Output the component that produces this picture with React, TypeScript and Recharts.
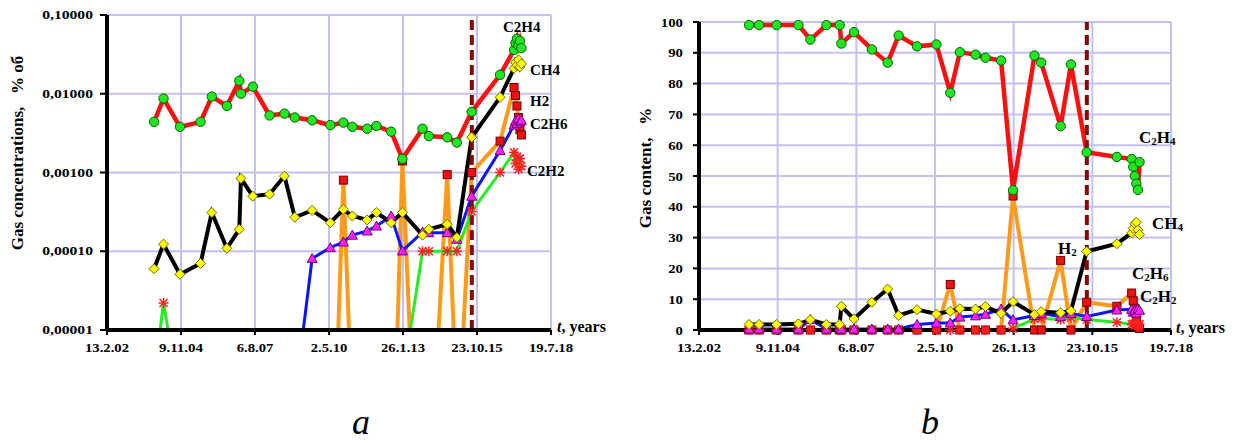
import React from "react";
import { LineChart, Line, XAxis, YAxis, CartesianGrid, ReferenceLine } from "recharts";

// sampling dates, days since 13.2.02
const days = [636, 764, 986, 1264, 1416, 1620, 1788, 1810, 1970, 2197, 2398, 2538, 2772, 3018, 3194, 3316, 3515, 3642, 3840, 3992, 4264, 4350, 4597, 4728, 4928, 5312];
// last group of closely spaced samples
const clusterDays = [5500, 5520, 5540, 5560, 5580, 5600];
const eventDay = 4930;

const dateTicks = [0, 1000, 2000, 3000, 4000, 5000, 6000];
const dateLabels = ["13.2.02", "9.11.04", "6.8.07", "2.5.10", "26.1.13", "23.10.15", "19.7.18"];
const logTicks = [0.00001, 0.0001, 0.001, 0.01, 0.1];
const pctTicks = [0, 10, 20, 30, 40, 50, 60, 70, 80, 90, 100];

// (a) gas concentrations, % vol (log axis)
const FLOOR = 0.00001; // zero readings drop to the axis floor
const aC2H4 = [0.0044, 0.0087, 0.0038, 0.0044, 0.0092, 0.007, 0.0146, 0.01, 0.0123, 0.0053, 0.0056, 0.005, 0.0046, 0.004, 0.0043, 0.0038, 0.0036, 0.0039, 0.0033, 0.00149, 0.0036, 0.0029, 0.0028, 0.0024, 0.0059, 0.0174, 0.036, 0.044, 0.05, 0.041, 0.047, 0.038];
const aCH4 = [0.00006, 0.000123, 0.000051, 0.00007, 0.00031, 0.000109, 0.00019, 0.00084, 0.0005, 0.00053, 0.0009, 0.00027, 0.00033, 0.00023, 0.00034, 0.00028, 0.00025, 0.00031, 0.00023, 0.00031, 0.00016, 0.00019, 0.00022, 0.00015, 0.0028, 0.009, 0.021, 0.025, 0.023, 0.027, 0.022, 0.024];
const aH2: [number, number | null][] = [
  [3125, FLOOR], [3194, 0.0008], [3270, FLOOR], [3600, null],
  [3925, FLOOR], [3992, 0.0014], [4090, FLOOR], [4300, null],
  [4480, FLOOR], [4597, 0.00094], [4685, FLOOR], [4750, null],
  [4815, FLOOR], [4928, 0.001], [5312, 0.0025],
  [5500, 0.012], [5520, 0.0095], [5540, 0.007], [5560, 0.005], [5580, 0.0035], [5600, 0.003],
];
const aC2H6: [number, number | null][] = [
  [2652, FLOOR], [2772, 0.000081], [3018, 0.000111], [3194, 0.000131], [3316, 0.00016], [3515, 0.000181],
  [3642, 0.000209], [3840, 0.00028], [3992, 0.000101], [4264, 0.000175], [4350, 0.000172], [4597, 0.000172],
  [4728, 0.000142], [4928, 0.0005], [5312, 0.0019],
  [5500, 0.004], [5520, 0.0045], [5540, 0.0042], [5560, 0.0048], [5580, 0.0044], [5600, 0.0046],
];
const aC2H2: [number, number | null][] = [
  [717, FLOOR], [764, 0.000022], [825, FLOOR], [2000, null],
  [4100, FLOOR], [4264, 0.0001], [4350, 0.0001], [4597, 0.0001], [4728, 0.0001], [4928, 0.00032], [5312, 0.001],
  [5500, 0.0018], [5520, 0.0013], [5540, 0.0016], [5560, 0.0011], [5580, 0.0015], [5600, 0.0012],
];

// (b) gas content, %
const bC2H4 = [99, 99, 99, 99, 94.3, 99, 99, 93, 96.7, 91.1, 86.8, 95.6, 92.1, 92.7, 77, 90.2, 89.4, 88.4, 87.5, 45.4, 89.1, 86.8, 66.2, 86.2, 57.7, 56.2, 55.5, 53, 50, 47.5, 45.5, 54.5];
const bCH4 = [1.8, 1.8, 1.8, 2.0, 3.3, 1.8, 1.8, 7.7, 3.6, 9.0, 13.3, 4.7, 6.6, 5.2, 6.1, 6.9, 6.8, 7.6, 5.4, 9.2, 5.0, 6.0, 5.6, 6.2, 25.5, 28.0, 31.5, 33, 34.5, 35, 32.5, 31];
const bH2 = [0, 0, 0, 0, 0, 0, 0, 0, 0, 0, 0, 0, 0, 0, 14.8, 0, 0, 0, 0, 43.5, 0, 0, 22.6, 0, 9.0, 7.7, 12, 9.5, 7, 4, 1.5, 0.5];
const bC2H6 = [0.3, 0.3, 0.3, 0.3, 3.4, 0.3, 0.3, 0.3, 0.3, 0.3, 0.3, 0.3, 1.8, 2.3, 2.3, 4.2, 4.6, 5.1, 6.8, 3.3, 4.7, 5.4, 4.3, 5.4, 4.4, 6.5, 6.7, 5.8, 6.2, 5.5, 6.9, 6.4];
const bC2H2 = [0, 0, 0, 0, 0, 0, 0, 0, 0, 0, 0, 0, 0, 0, 0, 0, 0, 0, 0, 0.5, 3.6, 3.7, 3.4, 4.0, 3.4, 2.5, 1.8, 2.0, 1.5, 2.2, 1.6, 1.9];

const allDays = [...days, ...clusterDays];
const bySample = (vals: number[]) => vals.map((v, i) => ({ t: allDays[i], v }));
const byPairs = (p: [number, number | null][]) => p.map(([t, v]) => ({ t, v }));

const SERIF = '"Liberation Serif", "Times New Roman", serif';
const GRID = "#c2c2f2";

const hidden = (p: any) => p.cx == null || p.cy == null || p.payload?.v == null || p.payload.v === FLOOR;

const circleDot = (p: any) =>
  hidden(p) ? <g key={p.index} /> : (
    <circle key={p.index} cx={p.cx} cy={p.cy} r={4.7} fill="#1ee81e" stroke="#0b5a0b" strokeWidth={1} />
  );
const diamondDot = (p: any) =>
  hidden(p) ? <g key={p.index} /> : (
    <polygon key={p.index} points={`${p.cx},${p.cy - 5} ${p.cx + 5},${p.cy} ${p.cx},${p.cy + 5} ${p.cx - 5},${p.cy}`} fill="#ffff00" stroke="#6b6b00" strokeWidth={1} />
  );
const squareDot = (p: any) =>
  hidden(p) ? <g key={p.index} /> : (
    <rect key={p.index} x={p.cx - 4} y={p.cy - 4} width={8} height={8} fill="#ee1111" stroke="#700000" strokeWidth={1} />
  );
const triangleDot = (p: any) =>
  hidden(p) ? <g key={p.index} /> : (
    <polygon key={p.index} points={`${p.cx},${p.cy - 5} ${p.cx + 5},${p.cy + 4} ${p.cx - 5},${p.cy + 4}`} fill="#ff22ff" stroke="#700070" strokeWidth={1} />
  );
const starDot = (p: any) =>
  hidden(p) ? <g key={p.index} /> : (
    <g key={p.index} stroke="#ff2020" strokeWidth={1.5}>
      <line x1={p.cx - 4} y1={p.cy - 4} x2={p.cx + 4} y2={p.cy + 4} />
      <line x1={p.cx - 4} y1={p.cy + 4} x2={p.cx + 4} y2={p.cy - 4} />
      <line x1={p.cx - 5} y1={p.cy} x2={p.cx + 5} y2={p.cy} />
      <line x1={p.cx} y1={p.cy - 5} x2={p.cx} y2={p.cy + 5} />
    </g>
  );

function textWidth(s: string, digit: number, punct: number) {
  let w = 0;
  for (const c of s) w += /[0-9]/.test(c) ? digit : punct;
  return w;
}

function LogTick(props: any) {
  const { x, y, payload } = props;
  const label = Number(payload.value).toFixed(5).replace(".", ",");
  return (
    <text x={x} y={y + 4} textAnchor="end" fontFamily={SERIF} fontWeight={700} fontSize={12.5} fill="#000"
      textLength={textWidth(label, 7.8, 4)} lengthAdjust="spacingAndGlyphs">
      {label}
    </text>
  );
}

function PctTick(props: any) {
  const { x, y, payload } = props;
  const label = String(payload.value);
  return (
    <text x={x} y={y + 4.5} textAnchor="end" fontFamily={SERIF} fontWeight={700} fontSize={13} fill="#000"
      textLength={textWidth(label, 7.4, 4)} lengthAdjust="spacingAndGlyphs">
      {label}
    </text>
  );
}

function DateTick(props: any) {
  const { x, y, payload } = props;
  const label = dateLabels[dateTicks.indexOf(payload.value)] ?? "";
  return (
    <text x={x} y={y + 15} textAnchor="middle" fontFamily={SERIF} fontWeight={700} fontSize={12.5} fill="#000"
      textLength={textWidth(label, 7.4, 3.5)} lengthAdjust="spacingAndGlyphs">
      {label}
    </text>
  );
}

const labelStyle: React.CSSProperties = {
  position: "absolute",
  fontFamily: SERIF,
  fontWeight: 700,
  color: "#000",
  whiteSpace: "pre",
  lineHeight: 1,
  transform: "translateY(-50%)",
};

function Tag({ x, y, size = 15, children }: { x: number; y: number; size?: number; children: React.ReactNode }) {
  return <div style={{ ...labelStyle, left: x, top: y, fontSize: size }}>{children}</div>;
}

function AxisTitle({ x, y, size, text }: { x: number; y: number; size: number; text: string }) {
  return (
    <div style={{ ...labelStyle, left: x, top: y, fontSize: size, transform: "translate(-50%, -50%) rotate(-90deg)" }}>
      {text}
    </div>
  );
}

const sub = (n: string) => <sub style={{ fontSize: "0.65em", verticalAlign: "-0.25em" }}>{n}</sub>;

const captionStyle: React.CSSProperties = {
  position: "absolute",
  top: 404,
  fontFamily: SERIF,
  fontStyle: "italic",
  fontSize: 36,
  lineHeight: 1,
};

export default function App() {
  return (
    <div style={{ position: "absolute", left: 0, top: 0, width: 1242, height: 443, background: "#fff" }}>
      {/* (a) log-scale concentrations */}
      <div style={{ position: "absolute", left: 0, top: 0 }}>
        <LineChart width={620} height={360} margin={{ top: 15, right: 69, bottom: 0, left: 0 }}>
          <CartesianGrid stroke={GRID} strokeWidth={2} />
          <XAxis type="number" dataKey="t" domain={[0, 6000]} ticks={dateTicks} interval={0} height={30}
            axisLine={{ stroke: "#000", strokeWidth: 4 }} tickLine={{ stroke: "#000", strokeWidth: 2 }}
            tickSize={5} tickMargin={2} tick={(p: any) => <DateTick {...p} />} allowDataOverflow />
          <YAxis scale="log" domain={[FLOOR, 0.1]} ticks={logTicks} interval={0} width={107} allowDataOverflow
            axisLine={{ stroke: "#000", strokeWidth: 4 }} tickLine={{ stroke: "#000", strokeWidth: 2 }}
            tickSize={7} tickMargin={7} tick={(p: any) => <LogTick {...p} />} />
          <Line data={byPairs(aH2)} dataKey="v" stroke="#ff9a1a" strokeWidth={4} dot={squareDot} activeDot={false} isAnimationActive={false} />
          <Line data={byPairs(aC2H2)} dataKey="v" stroke="#22ee22" strokeWidth={3} dot={starDot} activeDot={false} isAnimationActive={false} />
          <Line data={byPairs(aC2H6)} dataKey="v" stroke="#0a14ff" strokeWidth={3} dot={triangleDot} activeDot={false} isAnimationActive={false} />
          <Line data={bySample(aCH4)} dataKey="v" stroke="#000" strokeWidth={4} dot={diamondDot} activeDot={false} isAnimationActive={false} />
          <Line data={bySample(aC2H4)} dataKey="v" stroke="#ff1010" strokeWidth={4.5} dot={circleDot} activeDot={false} isAnimationActive={false} />
          <ReferenceLine x={eventDay} stroke="#880808" strokeWidth={4} strokeDasharray="10 5" />
        </LineChart>
      </div>

      {/* (b) percentage content */}
      <div style={{ position: "absolute", left: 620, top: 0 }}>
        <LineChart width={620} height={360} margin={{ top: 22, right: 69, bottom: 0, left: 0 }}>
          <CartesianGrid stroke={GRID} strokeWidth={2} />
          <XAxis type="number" dataKey="t" domain={[0, 6000]} ticks={dateTicks} interval={0} height={30}
            axisLine={{ stroke: "#000", strokeWidth: 4 }} tickLine={{ stroke: "#000", strokeWidth: 2 }}
            tickSize={5} tickMargin={2} tick={(p: any) => <DateTick {...p} />} allowDataOverflow />
          <YAxis domain={[0, 100]} ticks={pctTicks} interval={0} width={79}
            axisLine={{ stroke: "#000", strokeWidth: 4 }} tickLine={{ stroke: "#000", strokeWidth: 2 }}
            tickSize={6} tickMargin={10} tick={(p: any) => <PctTick {...p} />} />
          <Line data={bySample(bH2)} dataKey="v" stroke="#ff9a1a" strokeWidth={4} dot={squareDot} activeDot={false} isAnimationActive={false} />
          <Line data={bySample(bC2H2)} dataKey="v" stroke="#22ee22" strokeWidth={3} dot={starDot} activeDot={false} isAnimationActive={false} />
          <Line data={bySample(bC2H6)} dataKey="v" stroke="#0a14ff" strokeWidth={3} dot={triangleDot} activeDot={false} isAnimationActive={false} />
          <Line data={bySample(bCH4)} dataKey="v" stroke="#000" strokeWidth={4} dot={diamondDot} activeDot={false} isAnimationActive={false} />
          <Line data={bySample(bC2H4)} dataKey="v" stroke="#ff1010" strokeWidth={4.5} dot={circleDot} activeDot={false} isAnimationActive={false} />
          <ReferenceLine x={eventDay} stroke="#880808" strokeWidth={4} strokeDasharray="10 5" />
        </LineChart>
      </div>

      <AxisTitle x={17} y={153} size={17} text="Gas concentrations,   % об" />
      <AxisTitle x={645} y={168} size={17} text="Gas content,   %" />

      <Tag x={557} y={327} size={16}><i>t</i>, years</Tag>
      <Tag x={1176} y={328} size={16}><i>t</i>, years</Tag>

      <Tag x={503} y={27}>C2H4</Tag>
      <Tag x={530} y={70}>CH4</Tag>
      <Tag x={530} y={101}>H2</Tag>
      <Tag x={530} y={124}>C2H6</Tag>
      <Tag x={527} y={171}>C2H2</Tag>

      <Tag x={1139} y={138} size={17}>C{sub("2")}H{sub("4")}</Tag>
      <Tag x={1152} y={224} size={17}>CH{sub("4")}</Tag>
      <Tag x={1058} y={249} size={17}>H{sub("2")}</Tag>
      <Tag x={1132} y={274} size={17}>C{sub("2")}H{sub("6")}</Tag>
      <Tag x={1140} y={297} size={17}>C{sub("2")}H{sub("2")}</Tag>

      <div style={{ ...captionStyle, left: 352 }}>a</div>
      <div style={{ ...captionStyle, left: 921 }}>b</div>
    </div>
  );
}
